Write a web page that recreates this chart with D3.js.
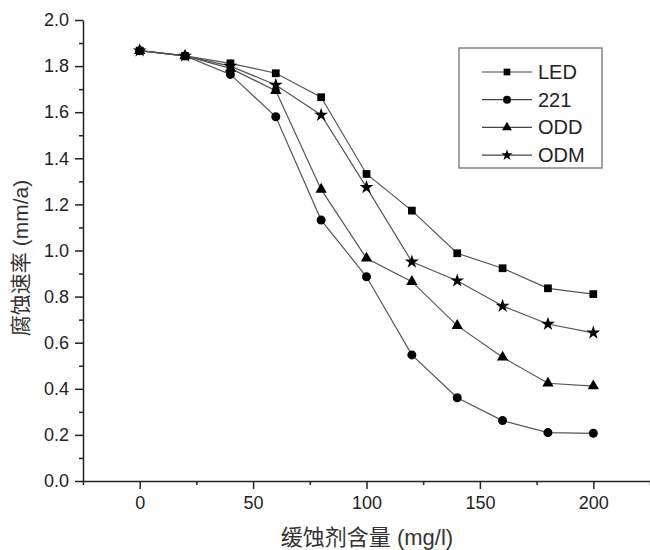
<!DOCTYPE html>
<html>
<head>
<meta charset="utf-8">
<script src="https://cdn.jsdelivr.net/npm/d3@7"></script>
<style>
  body { margin: 0; background: #fff; }
  text { font-family: "Liberation Sans", Arial, "Noto Sans CJK SC", sans-serif; }
</style>
</head>
<body>
<div id="chart"></div>
<script>
// inhibitor content (mg/l)
const doses = [0, 20, 40, 60, 80, 100, 120, 140, 160, 180, 200]
// corrosion rate (mm/a) per inhibitor
const led = [1.867, 1.844, 1.812, 1.769, 1.665, 1.332, 1.173, 0.988, 0.923, 0.836, 0.811]
const s221 = [1.867, 1.844, 1.764, 1.580, 1.132, 0.886, 0.547, 0.361, 0.262, 0.210, 0.207]
const odd = [1.867, 1.844, 1.790, 1.693, 1.265, 0.966, 0.865, 0.674, 0.537, 0.424, 0.412]
const odm = [1.867, 1.844, 1.800, 1.718, 1.588, 1.274, 0.951, 0.869, 0.759, 0.681, 0.643]
const seriesNames = ['LED', '221', 'ODD', 'ODM']
const xMajor = [0, 50, 100, 150, 200]
const xMinor = [-25, 25, 75, 125, 175, 225]
const yMajor = [0, 0.2, 0.4, 0.6, 0.8, 1.0, 1.2, 1.4, 1.6, 1.8, 2.0]
const yMinor = [0.1, 0.3, 0.5, 0.7, 0.9, 1.1, 1.3, 1.5, 1.7, 1.9]

const series = [
  { name: seriesNames[0], values: led, sym: d3.symbolSquare, size: 60, lsize: 45 },
  { name: seriesNames[1], values: s221, sym: d3.symbolCircle, size: 64, lsize: 50 },
  { name: seriesNames[2], values: odd, sym: d3.symbolTriangle, size: 56, lsize: 42 },
  { name: seriesNames[3], values: odm, sym: d3.symbolStar, size: 60, lsize: 40 }
]

const W = 650, H = 550
const svg = d3.select('#chart').append('svg')
  .attr('width', W).attr('height', H)

const x = d3.scaleLinear().domain([-25, 225]).range([83, 650])
const y = d3.scaleLinear().domain([0, 2]).range([481, 20])

// axes: minor ticks first, then majors with labels
svg.append('g').attr('transform', 'translate(0,481)')
  .call(d3.axisBottom(x).tickValues(xMinor).tickSize(4).tickFormat('').tickSizeOuter(0))
  .call(g => g.select('.domain').remove())
svg.append('g').attr('transform', 'translate(83,0)')
  .call(d3.axisLeft(y).tickValues(yMinor).tickSize(4).tickFormat('').tickSizeOuter(0))
  .call(g => g.select('.domain').remove())

svg.append('g').attr('transform', 'translate(0,481)')
  .call(d3.axisBottom(x).tickValues(xMajor).tickSize(8).tickSizeOuter(0).tickPadding(7))
svg.append('g').attr('transform', 'translate(83,0)')
  .call(d3.axisLeft(y).tickValues(yMajor).tickFormat(d3.format('.1f')).tickSize(8).tickSizeOuter(0).tickPadding(6))

svg.selectAll('.tick line').attr('stroke', '#222').attr('stroke-width', 1.5)
svg.selectAll('.domain').attr('stroke', '#222').attr('stroke-width', 1.5)
svg.selectAll('.tick text').attr('font-size', 18).attr('fill', '#222')
  .style('font-family', '"Liberation Sans", Arial, sans-serif')

// axis titles
svg.append('text')
  .attr('x', 367).attr('y', 545)
  .attr('text-anchor', 'middle')
  .attr('font-size', 22).attr('fill', '#333')
  .text('缓蚀剂含量 (mg/l)')
svg.append('text')
  .attr('transform', 'translate(28,258) rotate(-90)')
  .attr('text-anchor', 'middle')
  .attr('font-size', 21).attr('fill', '#333')
  .text('腐蚀速率 (mm/a)')

// lines + markers
const line = d3.line().x((d, i) => x(doses[i])).y(d => y(d))
series.forEach(s => {
  svg.append('path').datum(s.values)
    .attr('d', line)
    .attr('fill', 'none')
    .attr('stroke', '#555')
    .attr('stroke-width', 1.2)
})
series.forEach(s => {
  svg.append('g').selectAll('path')
    .data(s.values)
    .enter().append('path')
      .attr('transform', (d, i) => `translate(${x(doses[i])},${y(d)})`)
      .attr('d', d3.symbol().type(s.sym).size(s.size))
      .attr('fill', '#000')
})

// legend
const lg = svg.append('g').attr('transform', 'translate(459,48)')
lg.append('rect').attr('width', 143).attr('height', 120)
  .attr('fill', '#fff').attr('stroke', '#666').attr('stroke-width', 1.2)
series.forEach((s, i) => {
  const yy = 24 + i * 27.7
  lg.append('line').attr('x1', 23).attr('x2', 73).attr('y1', yy).attr('y2', yy)
    .attr('stroke', '#444').attr('stroke-width', 1.2)
  lg.append('path').attr('transform', `translate(48,${yy})`)
    .attr('d', d3.symbol().type(s.sym).size(s.lsize)).attr('fill', '#000')
  lg.append('text').attr('x', 79).attr('y', yy + 7)
    .attr('font-size', 20).attr('fill', '#222')
    .text(s.name)
})
</script>
</body>
</html>
